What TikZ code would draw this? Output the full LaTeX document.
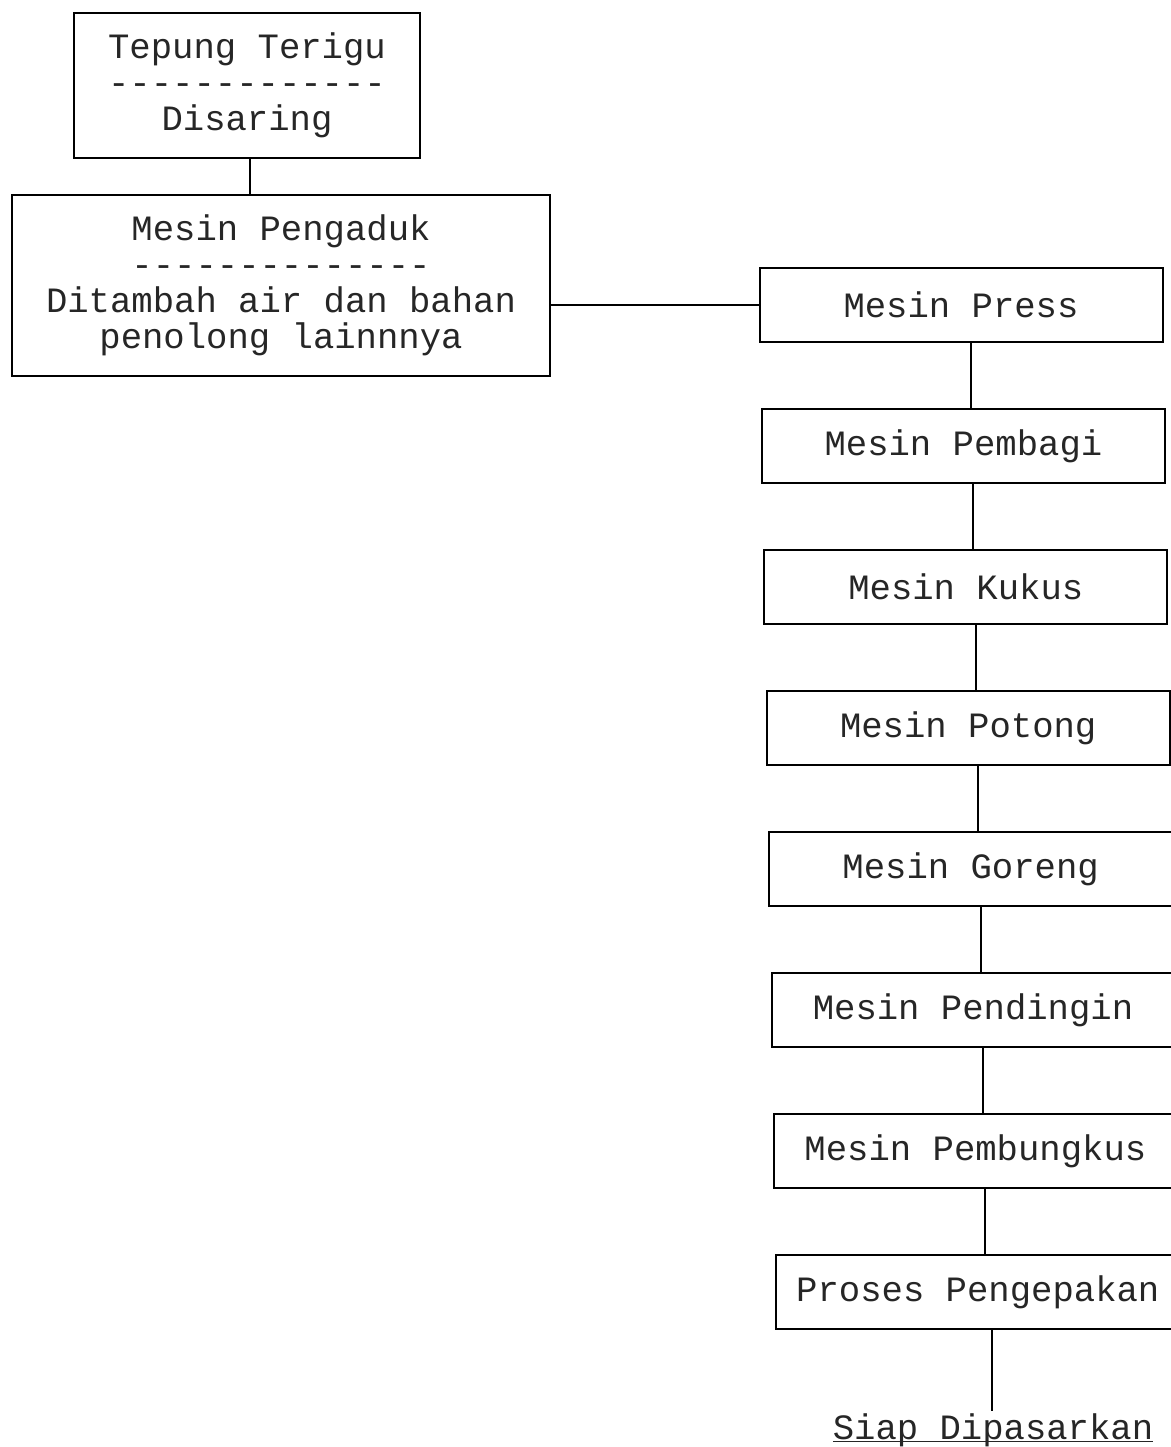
\documentclass[tikz,border=0pt]{standalone}
\usepackage{fontspec}
\setmonofont{Liberation Mono}
\usetikzlibrary{positioning}

\begin{document}
\begin{tikzpicture}[
            x=0.5pt, y=-0.5pt,
            node distance=32.5pt,
            every node/.style={font=\ttfamily\fontsize{17.8}{18}\selectfont, text=black!85},
            box/.style={draw, line width=1pt, align=center, inner sep=0pt},
            mesin/.style={box, minimum width=201.5pt, minimum height=37pt},
            drift/.style={xshift=1.2pt},
            garis/.style={line width=1pt}
        ]
            \useasboundingbox (0,0) rectangle (1171,1447);
            % Nodes
            \node[box, minimum width=173pt, minimum height=72.5pt] (tepung) at (247,85.5) {Tepung Terigu\\-------------\\Disaring};
            \node[box, minimum width=269pt, minimum height=90.5pt] (pengaduk) at (281,285.5) {Mesin Pengaduk\\--------------\\Ditambah air dan bahan\\penolong lainnnya};

            \node[mesin] (press) at (961,305) {Mesin Press};
            \node[mesin, below=of press, drift] (pembagi) {Mesin Pembagi};
            \node[mesin, below=of pembagi, drift] (kukus) {Mesin Kukus};
            \node[mesin, below=of kukus, drift] (potong) {Mesin Potong};
            \node[mesin, below=of potong, drift] (goreng) {Mesin Goreng};
            \node[mesin, below=of goreng, drift] (pendingin) {Mesin Pendingin};
            \node[mesin, below=of pendingin, drift] (pembungkus) {Mesin Pembungkus};
            \node[mesin, below=of pembungkus, drift] (pengepakan) {Proses Pengepakan};

            \node[anchor=base, inner sep=1pt] (siap) at (993,1439) {\underline{\raisebox{0pt}[\height][0pt]{Siap Dipasarkan}}};

            % Connectors
            \draw[garis] ([xshift=1.5pt]tepung.south) -- ([xshift=1.5pt]tepung.south |- pengaduk.north);
            \draw[garis] (pengaduk.east |- press.west) -- (press.west);
            \foreach \a/\b in {press/pembagi, pembagi/kukus, kukus/potong, potong/goreng,
                               goreng/pendingin, pendingin/pembungkus, pembungkus/pengepakan}
                \draw[garis] ([xshift=5pt]\a.south) -- ([xshift=5pt]\a.south |- \b.north);
            \draw[garis] ([xshift=7pt]pengepakan.south) -- ([xshift=7pt]pengepakan.south |- siap.north);
        \end{tikzpicture}
\end{document}
